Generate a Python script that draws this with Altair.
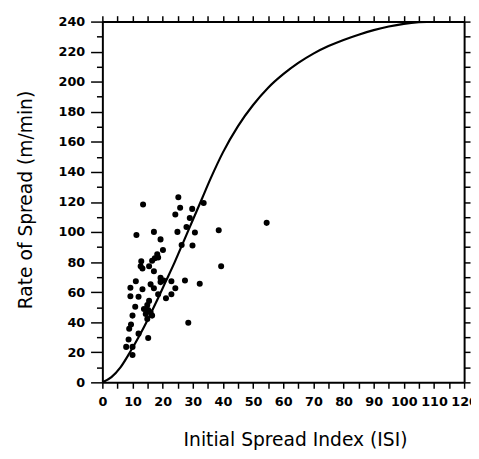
import altair as alt
import pandas as pd

# Observed fires: Initial Spread Index vs rate of spread (m/min)
isi = [25.2, 13.5, 25.8, 29.8, 33.6, 24.2, 29.0, 27.9, 11.3, 17.1,
       24.9, 30.7, 38.6, 19.3, 26.3, 29.9, 20.1, 18.2, 17.4, 18.5,
       16.5, 12.9, 12.7, 15.5, 13.3, 17.1, 39.4, 19.3, 20.3, 11.1,
       16.0, 19.3, 22.9, 27.4, 32.3, 9.3, 13.3, 17.1, 24.2, 18.5,
       22.9, 9.3, 12.0, 21.1, 15.5, 14.9, 10.9, 13.8, 15.2, 16.0,
       14.4, 16.5, 10.0, 14.9, 28.5, 9.5, 8.9, 12.0, 15.2, 8.7,
       7.9, 10.0, 10.0, 54.5]
ros = [123.1, 118.3, 116.1, 115.4, 119.3, 111.7, 109.3, 103.4, 98.0, 100.1,
       100.1, 99.7, 101.2, 95.1, 91.4, 91.0, 88.1, 85.2, 82.6, 83.1,
       80.9, 80.5, 77.2, 77.2, 75.7, 73.9, 77.2, 69.5, 67.8, 67.3,
       65.2, 66.7, 67.3, 67.8, 65.6, 63.0, 61.9, 62.6, 62.6, 58.6,
       58.6, 57.3, 56.9, 56.0, 54.2, 51.4, 50.3, 48.8, 48.1, 46.6,
       45.5, 44.4, 44.4, 42.2, 39.6, 38.5, 35.7, 32.4, 29.5, 28.5,
       23.6, 23.6, 18.2, 106.1]

# Fitted curve
curve_isi = [0, 3, 6, 9, 12, 15, 18, 21, 24, 27, 30, 33, 36, 40, 45, 50,
             55, 60, 65, 70, 75, 80, 85, 90, 95, 100, 105, 110, 120]
curve_ros = [0, 3.5, 10, 19.5, 30, 41.5, 54, 67, 80, 94, 108, 122, 136, 153, 170.5, 184.5,
             196, 205, 212.5, 218.7, 223.7, 227.8, 231.3, 234.3, 236.7, 238.5, 239.6, 240, 240]

pts = pd.DataFrame({"isi": isi, "ros": ros})
crv = pd.DataFrame({"isi": curve_isi, "ros": curve_ros})

xs = alt.Scale(domain=[0, 120], nice=False, zero=True)
ys = alt.Scale(domain=[0, 240], nice=False, zero=True)

x_bottom = alt.Axis(
    orient="bottom", values=list(range(0, 121, 5)),
    labelExpr="datum.value % 10 === 0 ? datum.label : ''",
    tickSize=6, labelPadding=8, labelOverlap=False, labelFlush=False,
    title="Initial Spread Index (ISI)", titleFontSize=19, titleFontWeight="normal",
    titleFont="DejaVu Sans", titleX=196, titleY=64, titleBaseline="alphabetic",
    titleAlign="center",
)
y_left = alt.Axis(
    orient="left", values=list(range(0, 241, 10)),
    labelExpr="datum.value % 20 === 0 ? datum.label : ''",
    tickSize={"condition": {"test": "datum.value % 20 === 0", "value": 12}, "value": 6},
    labelPadding=6, labelOverlap=False, labelFlush=False,
    title="Rate of Spread (m/min)", titleFontSize=19, titleFontWeight="normal",
    titleFont="DejaVu Sans", titleX=-72, titleY=181, titleBaseline="alphabetic",
    titleAlign="center", titleAngle=-90,
)
x_top = alt.Axis(orient="top", values=list(range(0, 121, 5)), labels=False,
                 tickSize=6, title=None)
y_right = alt.Axis(orient="right", values=list(range(0, 241, 10)), labels=False,
                   tickSize=6, title=None)

points = alt.Chart(pts).mark_circle(size=38, color="black", opacity=1).encode(
    x=alt.X("isi:Q", scale=xs, axis=x_bottom),
    y=alt.Y("ros:Q", scale=ys, axis=y_left),
)
line = alt.Chart(crv).mark_line(color="black", strokeWidth=2.2,
                                interpolate="monotone", clip=True).encode(
    x=alt.X("isi:Q", scale=xs, axis=x_top),
    y=alt.Y("ros:Q", scale=ys, axis=y_right),
)

chart = (
    alt.layer(points, line)
    .resolve_axis(x="independent", y="independent")
    .properties(
        width=368, height=367,
        autosize=alt.AutoSizeParams(type="none"),
        padding={"left": 96, "top": 10, "right": 7, "bottom": 66},
        background="white",
    )
    .configure_view(stroke=None)
    .configure_axis(
        grid=False, domainColor="black", domainWidth=2, tickColor="black",
        tickWidth=1.5, labelColor="black", labelFont="DejaVu Sans",
        labelFontWeight="bold", labelFontSize=13, titleColor="black",
    )
)

chart.save("out.html", embed_options={"renderer": "svg", "actions": False})
